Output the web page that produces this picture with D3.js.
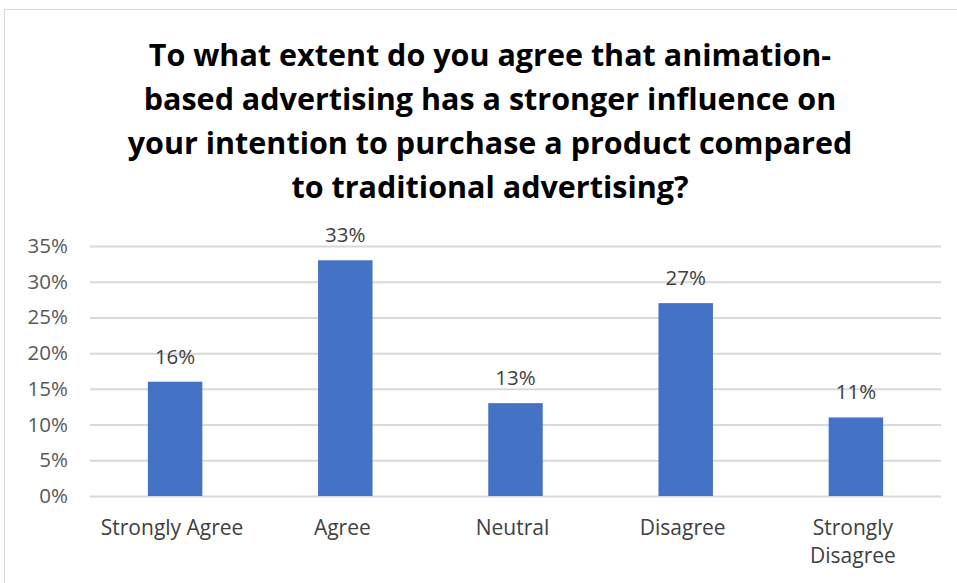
<!DOCTYPE html>
<html>
<head>
<meta charset="utf-8">
<script src="https://cdn.jsdelivr.net/npm/d3@7"></script>
<style>
  body { margin: 0; background: #fff; }
  text { font-family: "Open Sans", Lato, sans-serif; }
</style>
</head>
<body>
<div id="chart"></div>
<script>
// data
const categories = ['Strongly Agree', 'Agree', 'Neutral', 'Disagree', 'Strongly Disagree'];
const shares = [16, 33, 13, 27, 11];
const yTicks = [0, 5, 10, 15, 20, 25, 30, 35];
const titleLines = [
  'To what extent do you agree that animation-',
  'based advertising has a stronger influence on',
  'your intention to purchase a product compared',
  'to traditional advertising?'
];

const width = 957, height = 583;
const margin = {top: 246, right: 16, bottom: 87, left: 90};
const innerW = width - margin.left - margin.right;
const innerH = height - margin.top - margin.bottom;

const svg = d3.select('#chart').append('svg')
  .attr('width', width)
  .attr('height', height);

// chart area border (runs off the right and bottom)
svg.append('rect')
  .attr('x', 4.5).attr('y', 9.5)
  .attr('width', 1000).attr('height', 700)
  .attr('fill', '#fff')
  .attr('stroke', '#d9d9d9');

// title
const title = svg.append('text')
  .attr('text-anchor', 'middle')
  .style('font-weight', 'bold')
  .style('font-size', '30.5px')
  .attr('fill', '#000');
titleLines.forEach((t, i) => {
  title.append('tspan')
    .attr('x', 490)
    .attr('y', 66 + i * 44)
    .text(t);
});

const g = svg.append('g').attr('transform', `translate(${margin.left},${margin.top})`);

const x = d3.scaleBand()
  .domain(categories)
  .range([0, innerW])
  .paddingInner(0.68)
  .paddingOuter(0.34);

const y = d3.scaleLinear()
  .domain([0, 35])
  .range([innerH, 0]);

// gridlines + y labels
const yAxis = g.append('g')
  .call(d3.axisLeft(y)
    .tickValues(yTicks)
    .tickFormat(d => d + '%')
    .tickSizeInner(-innerW)
    .tickSizeOuter(0)
    .tickPadding(22));
yAxis.select('.domain').remove();
yAxis.selectAll('line').attr('stroke', '#d9d9d9').attr('stroke-width', 2);
yAxis.selectAll('text')
  .style('font-size', '20.5px')
  .attr('fill', '#595959');

// bars
g.selectAll('rect.bar')
  .data(shares)
  .enter()
  .append('rect')
  .attr('class', 'bar')
  .attr('x', (d, i) => x(categories[i]))
  .attr('y', d => y(d))
  .attr('width', x.bandwidth())
  .attr('height', d => innerH - y(d))
  .attr('fill', '#4472c4');

// data labels
g.selectAll('text.val')
  .data(shares)
  .enter()
  .append('text')
  .attr('class', 'val')
  .attr('x', (d, i) => x(categories[i]) + x.bandwidth() / 2)
  .attr('y', d => y(d) - 18)
  .attr('text-anchor', 'middle')
  .style('font-size', '20.5px')
  .attr('fill', '#404040')
  .text(d => d + '%');

// x labels, Strongly Disagree wraps onto two lines
const xAxis = g.append('g')
  .attr('transform', `translate(0,${innerH})`)
  .call(d3.axisBottom(x).tickSize(0).tickPadding(0).tickFormat(''));
xAxis.select('.domain').remove();

xAxis.selectAll('.tick').each(function(d) {
  const words = d === 'Strongly Disagree' ? ['Strongly', 'Disagree'] : [d];
  const t = d3.select(this).append('text')
    .attr('text-anchor', 'middle')
    .style('font-size', '21px')
    .attr('fill', '#404040');
  words.forEach((w, i) => {
    t.append('tspan').attr('x', -3).attr('y', 39 + i * 28).text(w);
  });
});
</script>
</body>
</html>
